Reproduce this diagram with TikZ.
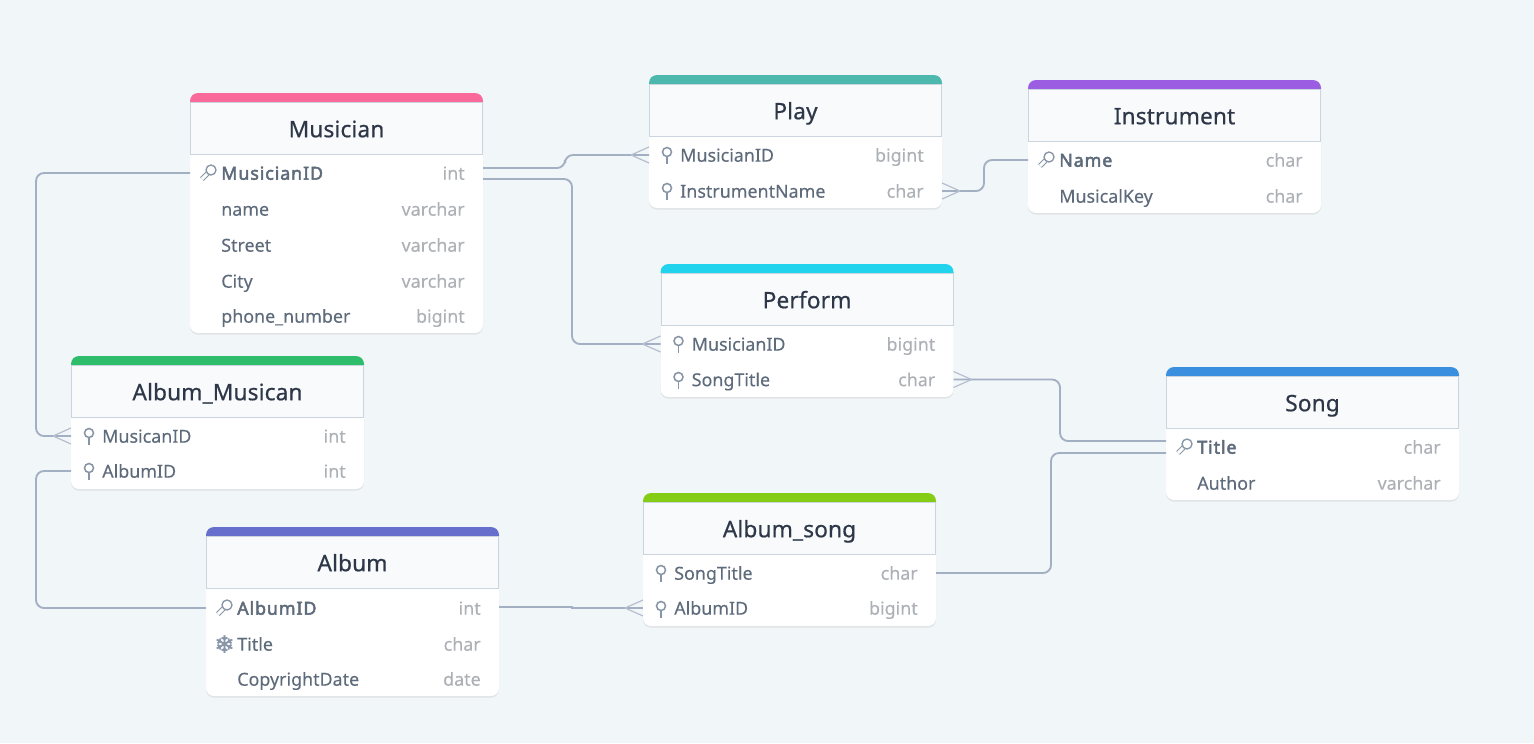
\documentclass[tikz,border=0pt]{standalone}
\usepackage{fontspec}
\setmainfont[FakeBold=0.15]{Noto Sans}
\newfontfamily\symbolfont[FakeBold=1.5]{DejaVu Sans}
\newfontfamily\titlefont[FakeBold=0.6, LetterSpace=0.6]{Noto Sans}
\newfontfamily\keyfont[FakeBold=2.6, LetterSpace=5]{Noto Sans}
\usetikzlibrary{calc,shadows}
\definecolor{pagebg}{HTML}{F1F6F9}
\definecolor{headbg}{HTML}{F8FAFC}
\definecolor{headline}{HTML}{CBD5E0}
\definecolor{linkcol}{HTML}{A3AFC2}
\definecolor{titlecol}{HTML}{2D3748}
\definecolor{rowcol}{HTML}{5E6B7B}
\definecolor{typecol}{HTML}{ADB1B6}
\definecolor{iconcol}{HTML}{8795A6}
\definecolor{musiciancol}{HTML}{F96A9B}
\definecolor{playcol}{HTML}{4DB8AE}
\definecolor{instrumentcol}{HTML}{9B5EE3}
\definecolor{performcol}{HTML}{22D3EE}
\definecolor{songcol}{HTML}{3A8FDE}
\definecolor{albummusicancol}{HTML}{2EBD6B}
\definecolor{albumcol}{HTML}{6670CC}
\definecolor{albumsongcol}{HTML}{84CC16}
\tikzset{
	tablebody/.style={fill=white, rounded corners=6pt, minimum width=219.75pt, inner sep=0pt, outer sep=0pt, drop shadow={opacity=0.16, shadow xshift=0pt, shadow yshift=-1.2pt}},
	headbox/.style={fill=headbg, draw=headline, line width=0.75pt, minimum width=219pt, minimum height=38.6pt, inner sep=0pt, outer sep=0pt, text=titlecol, text height=15.5pt, text depth=2.4pt, font=\titlefont\fontsize{17}{20}\selectfont},
	rowbox/.style={minimum width=219.75pt, minimum height=27pt, inner sep=0pt, outer sep=0pt},
	rowname/.style={anchor=west, inner sep=0pt, text=rowcol, text height=11.5pt, text depth=1.5pt, font=\fontsize{13.4}{16}\selectfont},
	rowtype/.style={anchor=east, inner sep=0pt, text=typecol, text height=11.5pt, text depth=1.5pt, font=\fontsize{13.4}{16}\selectfont},
	iconline/.style={draw=iconcol, line width=1.15pt},
	connector/.style={draw=linkcol, line width=1.4pt, rounded corners=6pt},
	crowfoot/.style={draw=linkcol!80, line width=0.9pt}
}
% table frame: id, x, y, colour, title, height
\newcommand{\dbtable}[6]{
	\node[tablebody, minimum height=#6*0.75pt] (#1) at (#2+146.5, #3+#6/2) {};
	\fill[#4] (#2, #3+9) [rounded corners=6pt] -- (#2, #3) -- (#2+293, #3) [sharp corners] -- (#2+293, #3+9) -- cycle;
	\node[headbox] (#1-title) at (#2+146.5, #3+35.5) {#5};
}
% table row: id, x, y, text, type
\newcommand{\dbrow}[5]{
	\node[rowbox] (#1) at (#2+146.5, #3) {};
	\node[rowname] (#1-name) at (#2+31, #3) {#4};
	\node[rowtype] (#1-type) at (#2+275, #3) {#5};
}
\newcommand{\pinicon}[2]{
	\draw[iconline] (#1+18, #2-3) circle[radius=4.5];
	\draw[iconline] (#1+18, #2+1.5) -- (#1+18, #2+9);
}
\newcommand{\keyicon}[2]{
	\draw[draw=iconcol, line width=0.85pt, double=white, double distance=2.2pt] (#1+12, #2+6) -- (#1+20, #2-2);
	\draw[iconline, fill=white, line width=1pt] (#1+21, #2-3) circle[radius=5];
}
% feet of a many end: table edge, direction
\newcommand{\manyend}[2]{
	\draw[crowfoot] ($(#1)+(#2*18, 0)$) -- ($(#1)+(0, -8)$);
	\draw[crowfoot] ($(#1)+(#2*18, 0)$) -- ($(#1)+(0, 8)$);
}
\begin{document}
\begin{tikzpicture}[x=0.75pt, y=-0.75pt]
	\useasboundingbox (0, 0) rectangle (1534, 743);
	\fill[pagebg] (0, 0) rectangle (1534, 743);

	\dbtable{musician}{190}{93}{musiciancol}{Musician}{240}
	\dbrow{musicianID}{190}{173}{{\keyfont MusicianID}}{int}
	\dbrow{musicianName}{190}{209}{name}{varchar}
	\dbrow{musicianStreet}{190}{245}{Street}{varchar}
	\dbrow{musicianCity}{190}{281}{City}{varchar}
	\dbrow{musicianPhone}{190}{316}{phone\_number}{bigint}
	\keyicon{190}{173}

	\dbtable{play}{649}{75}{playcol}{Play}{133}
	\dbrow{playMusician}{649}{155}{MusicianID}{bigint}
	\dbrow{playInstrument}{649}{191}{InstrumentName}{char}
	\pinicon{649}{155}
	\pinicon{649}{191}

	\dbtable{instrument}{1028}{80}{instrumentcol}{Instrument}{133}
	\dbrow{instrumentName}{1028}{160}{{\keyfont Name}}{char}
	\dbrow{instrumentKey}{1028}{196}{MusicalKey}{char}
	\keyicon{1028}{160}

	\dbtable{perform}{660.5}{264}{performcol}{Perform}{133}
	\dbrow{performMusician}{660.5}{344}{MusicianID}{bigint}
	\dbrow{performSong}{660.5}{379.5}{SongTitle}{char}
	\pinicon{660.5}{344}
	\pinicon{660.5}{380}

	\dbtable{song}{1166}{367}{songcol}{Song}{133}
	\dbrow{songTitle}{1166}{447}{{\keyfont Title}}{char}
	\dbrow{songAuthor}{1166}{483}{Author}{varchar}
	\keyicon{1166}{447}

	\dbtable{albumMusican}{71}{356}{albummusicancol}{Album\_Musican}{133}
	\dbrow{albumMusicanID}{71}{436}{MusicanID}{int}
	\dbrow{albumMusicanAlbum}{71}{471}{AlbumID}{int}
	\pinicon{71}{436}
	\pinicon{71}{471}

	\dbtable{album}{206}{527}{albumcol}{Album}{169}
	\dbrow{albumID}{206}{608}{{\keyfont AlbumID}}{int}
	\dbrow{albumTitle}{206}{644}{Title}{char}
	\dbrow{albumDate}{206}{679}{CopyrightDate}{date}
	\keyicon{206}{608}
	\node[text=iconcol, inner sep=0pt, font=\symbolfont\fontsize{18}{19}\selectfont] (albumTitle-icon) at (206+18.5, 644) {\symbol{"2744}};

	\dbtable{albumSong}{643}{493}{albumsongcol}{Album\_song}{133}
	\dbrow{albumSongTitle}{643}{573}{SongTitle}{char}
	\dbrow{albumSongAlbum}{643}{608}{AlbumID}{bigint}
	\pinicon{643}{573}
	\pinicon{643}{609}

	% connectors
	\draw[connector] ([yshift=3.75pt]musicianID.east) -| (565, 155) -- (playMusician.west);
	\draw[connector] ([yshift=-4.5pt]musicianID.east) -| (572, 344) -- (performMusician.west);
	\draw[connector] (musicianID.west) -| (36, 436) -- (albumMusicanID.west);
	\draw[connector] (albumMusicanAlbum.west) -| (36, 608) -- (albumID.west);
	\draw[connector, sharp corners] ([yshift=0.75pt]albumID.east) -- (572, 607) -- (572, 608) -- (albumSongAlbum.west);
	\draw[connector] (albumSongTitle.east) -| (1051, 453) -- ([yshift=-4.5pt]songTitle.west);
	\draw[connector] (performSong.east) -| (1060, 441) -- ([yshift=4.5pt]songTitle.west);
	\draw[connector] (playInstrument.east) -| (984, 160) -- (instrumentName.west);
	\manyend{playMusician.west}{-1}
	\manyend{performMusician.west}{-1}
	\manyend{albumMusicanID.west}{-1}
	\manyend{albumSongAlbum.west}{-1}
	\manyend{performSong.east}{1}
	\manyend{playInstrument.east}{1}
\end{tikzpicture}
\end{document}
